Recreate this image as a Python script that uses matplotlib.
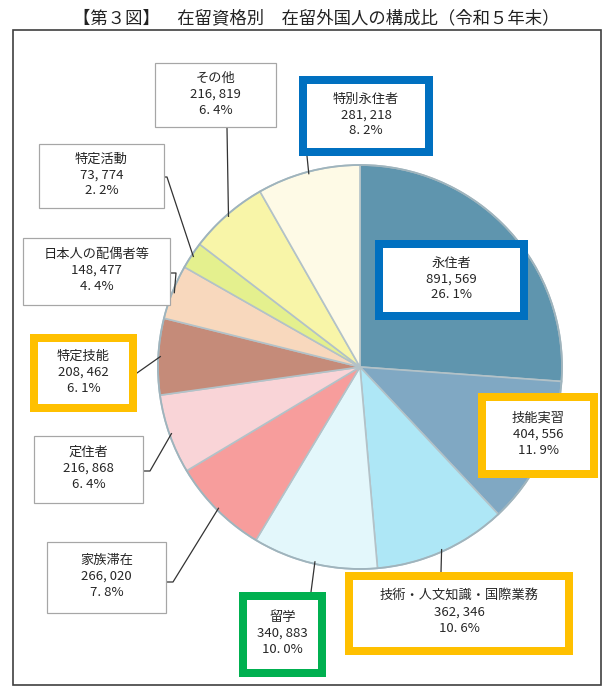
import numpy as np
import matplotlib.pyplot as plt
from matplotlib.patches import Rectangle, Circle

plt.rcParams['font.family'] = ['Noto Sans CJK JP', 'DejaVu Sans']

W, H = 608, 688

title = '【第３図】　在留資格別　在留外国人の構成比（令和５年末）'
categories = ['永住者', '技能実習', '技術・人文知識・国際業務', '留学', '家族滞在', '定住者',
              '特定技能', '日本人の配偶者等', '特定活動', 'その他', '特別永住者']
counts = [891569, 404556, 362346, 340883, 266020, 216868, 208462, 148477, 73774, 216819, 281218]
shares = [26.1, 11.9, 10.6, 10.0, 7.8, 6.4, 6.1, 4.4, 2.2, 6.4, 8.2]
colors = ['#5f95ae', '#80a8c3', '#aee7f6', '#e3f7fb', '#f79d9c', '#f9d4d7',
          '#c58b79', '#f8d8bd', '#e4f08e', '#f8f5a8', '#fefae6']

# label boxes, outer edges in pixels: x0, y0, x1, y1, border colour, border px, leader start, elbow
BLUE, ORANGE, GREEN, GRAY = '#0070c0', '#ffc000', '#00b050', '#a6a6a6'
boxes = {
    '永住者': (375, 240, 528, 320, BLUE, 8, None, None),
    '技能実習': (478, 393, 598, 478, ORANGE, 8, None, None),
    '技術・人文知識・国際業務': (345, 572, 573, 655, ORANGE, 8, (441, 572), None),
    '留学': (239, 592, 326, 677, GREEN, 8, (311, 592), None),
    '家族滞在': (46, 541, 167, 614, GRAY, 1.2, (167, 582), (173, 582)),
    '定住者': (33, 435, 144, 504, GRAY, 1.2, (144, 471), (150, 471)),
    '特定技能': (30, 334, 137, 412, ORANGE, 8, (137, 373), None),
    '日本人の配偶者等': (22, 237, 171, 306, GRAY, 1.2, (171, 273), (176, 273)),
    '特定活動': (38, 143, 165, 209, GRAY, 1.2, (165, 177), (167, 177)),
    'その他': (154, 62, 277, 128, GRAY, 1.2, (227, 128), None),
    '特別永住者': (299, 76, 433, 156, BLUE, 8, (307, 156), None),
}

cx, cy, R = 360, 367, 202

fig = plt.figure(figsize=(W / 100, H / 100), dpi=100)
ax = fig.add_axes([0, 0, 1, 1])

wedges, _ = ax.pie(counts, colors=colors, startangle=90, counterclock=False,
                   center=(cx, H - cy), radius=R,
                   wedgeprops=dict(edgecolor='#b3c2c8', linewidth=1.2))
ax.add_patch(Circle((cx, H - cy), R, fill=False, edgecolor='#9fb4bd', linewidth=1.3))
ax.set_xlim(0, W)
ax.set_ylim(0, H)
ax.set_aspect('equal')
ax.axis('off')

# outer frame
ax.add_patch(Rectangle((13, H - 685), 588, 655, fill=False, edgecolor='#404040', linewidth=1.2))
ax.text(316, H - 18, title, ha='center', va='center', fontsize=12.5, color='#222222')

for w, cat, cnt, sh in zip(wedges, categories, counts, shares):
    x0, y0, x1, y1, ec, bpx, start, elbow = boxes[cat]
    if start is not None:
        ang = np.deg2rad((w.theta1 + w.theta2) / 2)
        px = cx + R * 0.99 * np.cos(ang)
        py = (H - cy) + R * 0.99 * np.sin(ang)
        xs = [start[0]]
        ys = [H - start[1]]
        if elbow is not None:
            xs.append(elbow[0])
            ys.append(H - elbow[1])
        xs.append(px)
        ys.append(py)
        ax.plot(xs, ys, color='#333333', linewidth=0.9, zorder=3)
    h = bpx / 2
    ax.add_patch(Rectangle((x0 + h, H - y1 + h), x1 - x0 - bpx, y1 - y0 - bpx, facecolor='white',
                           edgecolor=ec, linewidth=bpx * 0.72, zorder=4))
    num = f'{cnt:,}'.replace(',', ', ')
    pct = f'{sh:.1f}'.replace('.', '. ') + '%'
    ax.text((x0 + x1) / 2, H - (y0 + y1) / 2 + 1, f'{cat}\n{num}\n{pct}', ha='center', va='center',
            fontsize=9.5, linespacing=1.3, color='#262626', zorder=5)

fig.savefig('out.png', dpi=100)
